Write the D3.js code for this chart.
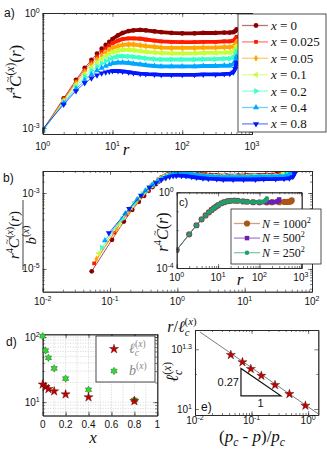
<!DOCTYPE html>
<html>
<head>
<meta charset="utf-8">
<script src="https://cdn.jsdelivr.net/npm/d3@7"></script>
<style>
  body { margin: 0; background: #fff; }
  text { font-family: 'Liberation Sans', Arial, sans-serif; }
  text.m { font-family: 'Liberation Serif', 'DejaVu Serif', serif; }
</style>
</head>
<body>
<svg id="fig" width="327" height="450"></svg>
<script>
// Correlation function collapse -- five panels a) to e)

///////////////////////////////////////////////////////////////////////////////
// Data

// r values sampled along the curves of panel a
var rA = [1, 2, 3, 4, 5, 6, 7, 8, 9, 10, 12, 14, 17, 20, 25, 30, 40, 50, 70, 100, 150, 200, 300, 400, 480, 540, 575, 600];

// log10 of r^4 C(x)(r), one array per dilution x
var logC_0 = [-3.05, -2.22, -1.74, -1.43, -1.22, -1.06, -0.93, -0.83, -0.75, -0.68, -0.58, -0.52, -0.47, -0.45, -0.44, -0.45, -0.48, -0.50, -0.52, -0.53, -0.53, -0.52, -0.52, -0.51, -0.51, -0.50, -0.47, -0.43];
var logC_0025 = [-3.06, -2.25, -1.78, -1.48, -1.28, -1.13, -1.01, -0.92, -0.85, -0.79, -0.72, -0.68, -0.66, -0.66, -0.67, -0.69, -0.72, -0.74, -0.75, -0.76, -0.76, -0.75, -0.75, -0.74, -0.74, -0.72, -0.68, -0.62];
var logC_005 = [-3.06, -2.27, -1.82, -1.53, -1.34, -1.21, -1.10, -1.02, -0.96, -0.91, -0.86, -0.83, -0.82, -0.82, -0.84, -0.86, -0.88, -0.90, -0.91, -0.91, -0.91, -0.90, -0.90, -0.89, -0.89, -0.87, -0.82, -0.75];
var logC_01 = [-3.07, -2.29, -1.86, -1.59, -1.41, -1.28, -1.19, -1.12, -1.06, -1.02, -0.98, -0.96, -0.96, -0.97, -0.99, -1.01, -1.03, -1.04, -1.05, -1.05, -1.05, -1.04, -1.04, -1.03, -1.03, -1.00, -0.95, -0.86];
var logC_02 = [-3.08, -2.32, -1.92, -1.66, -1.50, -1.39, -1.31, -1.25, -1.20, -1.17, -1.13, -1.12, -1.13, -1.14, -1.16, -1.18, -1.20, -1.21, -1.21, -1.21, -1.21, -1.20, -1.20, -1.19, -1.19, -1.16, -1.10, -1.00];
var logC_04 = [-3.06, -2.35, -1.98, -1.75, -1.60, -1.50, -1.43, -1.38, -1.34, -1.31, -1.29, -1.29, -1.30, -1.32, -1.34, -1.36, -1.38, -1.39, -1.39, -1.39, -1.39, -1.38, -1.38, -1.37, -1.37, -1.33, -1.26, -1.14];
var logC_08 = [-3.02, -2.38, -2.03, -1.82, -1.70, -1.62, -1.57, -1.54, -1.52, -1.51, -1.51, -1.52, -1.54, -1.56, -1.58, -1.59, -1.60, -1.61, -1.61, -1.61, -1.61, -1.60, -1.60, -1.59, -1.58, -1.54, -1.45, -1.29];

var dilutionLabels = ["0", "0.025", "0.05", "0.1", "0.2", "0.4", "0.8"];
var dilution = [0, 0.025, 0.05, 0.1, 0.2, 0.4, 0.8];

// correlation length and amplitude (panel d, e)
var lcVals = [18.7, 17.2, 15.9, 14.7, 13.2, 11.9, 10.4];
var bVals = [103, 62, 48, 33, 23, 15.5, 10.8];
var pRel = [0.043, 0.069, 0.097, 0.149, 0.26, 0.467, 0.895];
var fitX = [0.0122, 1.5];
var fitY = [24.4, 9.47];
var triX = [0.065, 0.065, 0.33];
var triY = [16.0, 11.65, 11.65];

// panel c: system sizes, x = 0
var sizeLabels = ["1000", "500", "250"];
var rN1000 = rA;
var logN1000 = logC_0;
var rN500 = [1, 2, 3, 4, 5, 6, 7, 8, 9, 10, 12, 14, 17, 20, 25, 30, 40, 50, 70, 100, 150, 200, 240, 270, 290, 300];
var logN500 = [-3.05, -2.22, -1.74, -1.43, -1.22, -1.06, -0.93, -0.83, -0.75, -0.68, -0.58, -0.52, -0.47, -0.45, -0.44, -0.45, -0.48, -0.50, -0.52, -0.53, -0.53, -0.52, -0.51, -0.49, -0.44, -0.38];
var rN250 = [1, 2, 3, 4, 5, 6, 7, 8, 9, 10, 12, 14, 17, 20, 25, 30, 40, 50, 70, 100, 120, 135, 145, 150];
var logN250 = [-3.05, -2.22, -1.74, -1.43, -1.22, -1.06, -0.93, -0.83, -0.75, -0.68, -0.58, -0.52, -0.47, -0.45, -0.44, -0.45, -0.48, -0.50, -0.52, -0.52, -0.50, -0.46, -0.40, -0.33];

var logSeries = [logC_0, logC_0025, logC_005, logC_01, logC_02, logC_04, logC_08];
var colors = ["#8c0000", "#ff1a00", "#ffa600", "#c4ff3a", "#3affc8", "#00a6ff", "#0018ff"];
var sizeColors = ["#a8561a", "#6a1fb0", "#1f9e6e"];

///////////////////////////////////////////////////////////////////////////////
// Helpers

var svg = d3.select("#fig");
var defs = svg.append("defs");
var clipCount = 0;

var shapes = [
  {type: d3.symbolCircle, rot: 0, size: 18},
  {type: d3.symbolSquare, rot: 0, size: 14},
  {type: d3.symbolDiamond, rot: 0, size: 14},
  {type: d3.symbolTriangle, rot: -90, size: 16},
  {type: d3.symbolTriangle, rot: 90, size: 16},
  {type: d3.symbolTriangle, rot: 0, size: 16},
  {type: d3.symbolTriangle, rot: 180, size: 16}
];

// six pointed star for the b(x) markers
var hexagram = {
  draw: function (ctx, size) {
    var R = Math.sqrt(size / 2.2), r = R * 0.58;
    for (var i = 0; i < 12; i++) {
      var a = i * Math.PI / 6 - Math.PI / 2, rr = i % 2 ? r : R;
      if (i === 0) ctx.moveTo(rr * Math.cos(a), rr * Math.sin(a));
      else ctx.lineTo(rr * Math.cos(a), rr * Math.sin(a));
    }
    ctx.closePath();
  }
};

function logTicks(lo, hi) {
  var out = [];
  for (var k = Math.floor(Math.log10(lo)); k <= Math.ceil(Math.log10(hi)); k++)
    for (var m = 1; m < 10; m++) {
      var v = m * Math.pow(10, k);
      if (v >= lo * 0.999 && v <= hi * 1.001) out.push(v);
    }
  return out;
}

function clipTo(g, x, y) {
  var id = "clip" + (clipCount++);
  defs.append("clipPath").attr("id", id).append("rect")
    .attr("x", x.range()[0]).attr("y", y.range()[1])
    .attr("width", x.range()[1] - x.range()[0])
    .attr("height", y.range()[0] - y.range()[1]);
  return g.append("g").attr("clip-path", "url(#" + id + ")");
}

// box with inward ticks on all four sides
function frame(g, x, y, o) {
  var xr = x.range(), yr = y.range();
  function side(axis, tr, vals, size) {
    g.append("g").attr("transform", tr)
      .call(axis.tickValues(vals).tickSize(size).tickSizeOuter(0).tickFormat(""))
      .call(function (s) {
        s.select(".domain").attr("stroke", "#222").attr("stroke-width", 0.8);
        s.selectAll(".tick line").attr("stroke", "#222").attr("stroke-width", 0.6);
      });
  }
  [[o.xMin, -2], [o.xMaj, -4]].forEach(function (t) {
    side(d3.axisBottom(x), "translate(0," + yr[0] + ")", t[0], t[1]);
    side(d3.axisTop(x), "translate(0," + yr[1] + ")", t[0], t[1]);
  });
  [[o.yMin, -2], [o.yMaj, -4]].forEach(function (t) {
    side(d3.axisLeft(y), "translate(" + xr[0] + ",0)", t[0], t[1]);
    side(d3.axisRight(y), "translate(" + xr[1] + ",0)", t[0], t[1]);
  });
}

function exp10(t, v) {
  var e = Math.round(Math.log10(v) * 10) / 10;
  t.append("tspan").text("10");
  t.append("tspan").attr("dy", -4).attr("font-size", 7).text(e < 0 ? "-" + (-e) : "" + e);
}

function plain(t, v) {
  t.text(d3.format("~g")(v));
}

function xLabels(g, x, y, vals, fmt, dy) {
  vals.forEach(function (v) {
    var t = g.append("text").attr("x", x(v)).attr("y", y.range()[0] + dy)
      .attr("text-anchor", "middle").attr("font-size", 10).attr("fill", "#111");
    fmt(t, v);
  });
}

function yLabels(g, x, y, vals, fmt) {
  vals.forEach(function (v) {
    var t = g.append("text").attr("x", x.range()[0] - 3).attr("y", y(v) + 3.5)
      .attr("text-anchor", "end").attr("font-size", 10).attr("fill", "#111");
    fmt(t, v);
  });
}

// math-like text: parts are [text, style, dx]; style has i (italic), ^ (sup), _ (sub),
// ~ (tilde accent over the previous letter)
function math(t, parts, size) {
  var shift = 0, carry = 0;
  t.attr("class", "m").attr("font-size", size).attr("fill", "#111");
  parts.forEach(function (p) {
    var s = 0, fs = size, dx = (p[2] || 0) + carry;
    carry = 0;
    if (p[1].indexOf("^") >= 0) { s = -size * 0.42; fs = size * 0.68; }
    if (p[1].indexOf("_") >= 0) { s = size * 0.22; fs = size * 0.68; }
    if (p[1].indexOf("~") >= 0) {
      s = -size * 0.6; fs = size * 0.62;
      dx += -size * 0.41;
      carry = size * 0.41 - size * 0.62 * 0.54;
    }
    var ts = t.append("tspan").text(p[0]).attr("dy", s - shift).attr("font-size", fs)
      .attr("font-style", p[1].indexOf("i") >= 0 ? "italic" : "normal");
    if (dx) ts.attr("dx", dx);
    shift = s;
  });
  return t;
}

var supX = [["(", "^"], ["x", "^i"], [")", "^"]];
var cTilde = [["C", "i"], ["~", "~"]];

function marker(sel, shape, color, stroke) {
  sel.attr("d", d3.symbol().type(shape.type).size(shape.size)())
    .attr("fill", color)
    .attr("stroke", stroke || "none").attr("stroke-width", 0.4);
}

// thin line through all points, a heavy band where the markers pile up
function drawCurve(g, pts, x, y, color, shape, bandFrom) {
  var line = d3.line().x(function (d) { return x(d.x); }).y(function (d) { return y(d.y); });
  g.append("path").attr("d", line(pts)).attr("fill", "none")
    .attr("stroke", color).attr("stroke-width", 0.7);
  g.append("path").attr("d", line(pts.filter(function (d) { return d.r >= bandFrom; })))
    .attr("fill", "none").attr("stroke", color).attr("stroke-width", 3.8)
    .attr("stroke-linejoin", "round").attr("stroke-linecap", "round");
  g.selectAll(null).data(pts).enter().append("path")
    .attr("transform", function (d) {
      return "translate(" + x(d.x) + "," + y(d.y) + ") rotate(" + shape.rot + ")";
    })
    .call(marker, shape, color);
}

function panelTag(txt, x, y, size) {
  svg.append("text").attr("x", x).attr("y", y).attr("font-size", size || 12)
    .attr("fill", "#111").text(txt);
}

///////////////////////////////////////////////////////////////////////////////
// Panel a

var xa = d3.scaleLog().domain([1, 1000]).range([42.7, 252]);
var ya = d3.scaleLog().domain([Math.pow(10, -3.15), 1]).range([134, 13]);
var ga = svg.append("g");
var pa = clipTo(ga, xa, ya);

logSeries.forEach(function (s, i) {
  var pts = s.map(function (v, k) { return {r: rA[k], x: rA[k], y: Math.pow(10, v)}; });
  drawCurve(pa, pts, xa, ya, colors[i], shapes[i], 10);
});
frame(ga, xa, ya, {xMaj: [1, 10, 100, 1000], xMin: logTicks(1, 1000),
  yMaj: [1e-3, 1], yMin: logTicks(ya.domain()[0], 1)});
xLabels(ga, xa, ya, [1, 10, 100, 1000], exp10, 16);
yLabels(ga, xa, ya, [1e-3, 1], exp10);

math(ga.append("text").attr("x", 126).attr("y", 155).attr("text-anchor", "middle"),
  [["r", "i"]], 17);
math(ga.append("text").attr("transform", "translate(21,72) rotate(-90)").attr("text-anchor", "middle"),
  [["r", "i"], ["4", "^"]].concat(cTilde, supX, [["(", "u"], ["r", "i"], [")", "u"]]), 17);

// legend a
var lga = ga.append("g");
lga.append("rect").attr("x", 238).attr("y", 14).attr("width", 88).attr("height", 118)
  .attr("fill", "#fff").attr("stroke", "#222").attr("stroke-width", 0.8);
dilutionLabels.forEach(function (lab, i) {
  var yy = 25.5 + i * 16.4;
  lga.append("line").attr("x1", 242).attr("x2", 268).attr("y1", yy).attr("y2", yy)
    .attr("stroke", colors[i]).attr("stroke-width", 1.3).attr("opacity", 0.55);
  lga.append("path").attr("transform", "translate(256," + yy + ") rotate(" + shapes[i].rot + ")")
    .call(marker, shapes[i], colors[i]);
  math(lga.append("text").attr("x", 271).attr("y", yy + 4.5),
    [["x", "i"], [" = " + lab, "u"]], 13);
});
panelTag("a)", 4, 17);

///////////////////////////////////////////////////////////////////////////////
// Panel b

var xb = d3.scaleLog().domain([0.01, 100]).range([42.7, 312]);
var yb = d3.scaleLog().domain([Math.pow(10, -5.6), Math.pow(10, -2.42)]).range([291.7, 171]);
var gb = svg.append("g");
var pb = clipTo(gb, xb, yb);

logSeries.forEach(function (s, i) {
  var pts = s.map(function (v, k) {
    return {r: rA[k], x: rA[k] / lcVals[i], y: Math.pow(10, v) / bVals[i]};
  });
  drawCurve(pb, pts, xb, yb, colors[i], shapes[i], 10);
});
frame(gb, xb, yb, {xMaj: [0.01, 0.1, 1, 10, 100], xMin: logTicks(0.01, 100),
  yMaj: [1e-5, 1e-3], yMin: logTicks(yb.domain()[0], yb.domain()[1])});
xLabels(gb, xb, yb, [0.01, 0.1, 1, 10, 100], exp10, 13);
yLabels(gb, xb, yb, [1e-5, 1e-3], exp10);

math(gb.append("text").attr("x", 182).attr("y", 332).attr("text-anchor", "middle"),
  [["r", "i"], ["/", "u"], ["\u2113", "i"], ["c", "_i"], ["(", "^", -5], ["x", "^i"], [")", "^"]], 16);
var fr = gb.append("g").attr("transform", "translate(23,235) rotate(-90)");
math(fr.append("text").attr("x", 0).attr("y", -4).attr("text-anchor", "middle"),
  [["r", "i"], ["4", "^"]].concat(cTilde, supX, [["(", "u"], ["r", "i"], [")", "u"]]), 15);
fr.append("line").attr("x1", -35).attr("x2", 35).attr("y1", 0).attr("y2", 0)
  .attr("stroke", "#111").attr("stroke-width", 0.8);
math(fr.append("text").attr("x", 0).attr("y", 12.5).attr("text-anchor", "middle"),
  [["b", "i"]].concat(supX), 15);
panelTag("b)", 3, 182);

///////////////////////////////////////////////////////////////////////////////
// Panel c (inset)

var xc = d3.scaleLog().domain([1, Math.pow(10, 3.02)]).range([176.7, 301.7]);
var yc = d3.scaleLog().domain([1e-4, 1]).range([268, 192.3]);
var gc = svg.append("g");
gc.append("rect").attr("x", 176.7).attr("y", 192.3).attr("width", 125).attr("height", 75.7)
  .attr("fill", "#fff");
var pc = clipTo(gc, xc, yc);

var sizeShapes = [
  {type: d3.symbolCircle, rot: 0, size: 30},
  {type: d3.symbolSquare, rot: 0, size: 20},
  {type: d3.symbolCircle, rot: 0, size: 16}
];
[[rN1000, logN1000], [rN500, logN500], [rN250, logN250]].forEach(function (s, i) {
  var pts = s[1].map(function (v, k) { return {r: s[0][k], x: s[0][k], y: Math.pow(10, v)}; });
  drawCurve(pc, pts, xc, yc, sizeColors[i], sizeShapes[i], 10);
});
frame(gc, xc, yc, {xMaj: [1, 10, 100, 1000], xMin: logTicks(1, 1000),
  yMaj: [1e-4, 1], yMin: [1e-3, 1e-2, 1e-1]});
xLabels(gc, xc, yc, [1, 10, 100, 1000], exp10, 13);
yLabels(gc, xc, yc, [1e-4, 1], exp10);
math(gc.append("text").attr("x", 240).attr("y", 285).attr("text-anchor", "middle"),
  [["r", "i"]], 17);
math(gc.append("text").attr("transform", "translate(168,232) rotate(-90)").attr("text-anchor", "middle"),
  [["r", "i"], ["4", "^"]].concat(cTilde, [["(", "u"], ["r", "i"], [")", "u"]]), 16);
panelTag("c)", 179, 206, 11);

// legend c
var lgc = gc.append("g");
lgc.append("rect").attr("x", 231).attr("y", 209).attr("width", 90).attr("height", 55)
  .attr("fill", "#fff").attr("stroke", "#222").attr("stroke-width", 0.8);
sizeLabels.forEach(function (lab, i) {
  var yy = 223.5 + i * 14.6;
  lgc.append("line").attr("x1", 234).attr("x2", 260).attr("y1", yy).attr("y2", yy)
    .attr("stroke", sizeColors[i]).attr("stroke-width", 1.3).attr("opacity", 0.55);
  lgc.append("path").attr("transform", "translate(247," + yy + ")")
    .call(marker, sizeShapes[i], sizeColors[i]);
  math(lgc.append("text").attr("x", 262).attr("y", yy + 4.2),
    [["N", "i"], [" = " + lab, "u"], ["2", "^"]], 12);
});

///////////////////////////////////////////////////////////////////////////////
// Panel d

var xd = d3.scaleLinear().domain([0, 1]).range([42.7, 157.3]);
var yd = d3.scaleLog().domain([Math.pow(10, 0.795), Math.pow(10, 2.042)]).range([415.5, 334.3]);
var gd = svg.append("g");
var grid = gd.append("g").attr("stroke", "#bbb").attr("stroke-width", 0.6)
  .attr("stroke-dasharray", "1,1.5");
xd.ticks(10).forEach(function (v) {
  grid.append("line").attr("x1", xd(v)).attr("x2", xd(v)).attr("y1", 334.3).attr("y2", 415.5);
});
logTicks(yd.domain()[0], yd.domain()[1]).forEach(function (v) {
  grid.append("line").attr("x1", 42.7).attr("x2", 157.3).attr("y1", yd(v)).attr("y2", yd(v));
});
frame(gd, xd, yd, {xMaj: xd.ticks(5), xMin: xd.ticks(5),
  yMaj: [10, 100], yMin: logTicks(yd.domain()[0], yd.domain()[1])});
xLabels(gd, xd, yd, xd.ticks(5), plain, 12);
yLabels(gd, xd, yd, [10, 100], exp10);
math(gd.append("text").attr("x", 93).attr("y", 443).attr("text-anchor", "middle"),
  [["x", "i"]], 17);

var starShape = {type: d3.symbolStar, rot: 0, size: 26};
var hexShape = {type: hexagram, rot: 0, size: 30};
var pd = gd.append("g");
pd.selectAll(null).data(dilution).enter().append("path")
  .attr("transform", function (d, i) { return "translate(" + xd(d) + "," + yd(bVals[i]) + ")"; })
  .call(marker, hexShape, "#2edc2e", "#1a3a1a");
pd.selectAll(null).data(dilution).enter().append("path")
  .attr("transform", function (d, i) { return "translate(" + xd(d) + "," + yd(lcVals[i]) + ")"; })
  .call(marker, starShape, "#c40000", "#3a0000");

var lgd = gd.append("g");
lgd.append("rect").attr("x", 96).attr("y", 336).attr("width", 59).attr("height", 46)
  .attr("fill", "#fff").attr("stroke", "#222").attr("stroke-width", 0.8);
lgd.append("path").attr("transform", "translate(114,349)").call(marker, starShape, "#c40000", "#3a0000");
lgd.append("path").attr("transform", "translate(114,371)").call(marker, hexShape, "#2edc2e", "#1a3a1a");
math(lgd.append("text").attr("x", 129).attr("y", 353), [["\u2113", "i"], ["c", "_i"], ["(", "^", -4], ["x", "^i"], [")", "^"]], 14)
  .attr("fill", "#888");
math(lgd.append("text").attr("x", 129).attr("y", 375), [["b", "i"]].concat(supX), 14)
  .attr("fill", "#888");
panelTag("d)", 6, 346);

///////////////////////////////////////////////////////////////////////////////
// Panel e

var xe = d3.scaleLog().domain([0.01, Math.pow(10, 0.18)]).range([195, 318.3]);
var ye = d3.scaleLog().domain([Math.pow(10, 0.97), Math.pow(10, 1.397)]).range([415, 330]);
var ge = svg.append("g");
var pe = clipTo(ge, xe, ye);
pe.append("path").datum(fitX.map(function (v, i) { return [v, fitY[i]]; }))
  .attr("d", d3.line().x(function (d) { return xe(d[0]); }).y(function (d) { return ye(d[1]); }))
  .attr("stroke", "#222").attr("stroke-width", 0.6).attr("fill", "none");
pe.append("path").datum(triX.map(function (v, i) { return [v, triY[i]]; }))
  .attr("d", d3.line().x(function (d) { return xe(d[0]); }).y(function (d) { return ye(d[1]); })
    .curve(d3.curveLinearClosed))
  .attr("stroke", "#111").attr("stroke-width", 1.2).attr("fill", "none");
pe.selectAll(null).data(pRel).enter().append("path")
  .attr("transform", function (d, i) { return "translate(" + xe(d) + "," + ye(lcVals[i]) + ")"; })
  .call(marker, starShape, "#c40000", "#3a0000");
frame(ge, xe, ye, {xMaj: [0.01, 0.1, 1], xMin: logTicks(0.01, 1.5),
  yMaj: [10, Math.pow(10, 1.3)], yMin: [15]});
xLabels(ge, xe, ye, [0.01, 0.1, 1], exp10, 8.5);
yLabels(ge, xe, ye, [10, Math.pow(10, 1.3)], exp10);
ge.append("text").attr("x", xe(triX[0]) - 2).attr("y", ye(13.6) + 4).attr("text-anchor", "end")
  .attr("font-size", 11).attr("fill", "#111").text("0.27");
ge.append("text").attr("x", xe(0.145)).attr("y", ye(triY[1]) + 11).attr("text-anchor", "middle")
  .attr("font-size", 11).attr("fill", "#111").text("1");
panelTag("e)", 201, 411);
math(ge.append("text").attr("x", 252).attr("y", 442).attr("text-anchor", "middle"),
  [["(", "u"], ["p", "i"], ["c", "_i"], [" - ", "u"], ["p", "i"], [")/", "u"], ["p", "i"], ["c", "_i"]], 17);
math(ge.append("text").attr("transform", "translate(178,372) rotate(-90)").attr("text-anchor", "middle"),
  [["\u2113", "i"], ["c", "_i"], ["(", "^", -5], ["x", "^i"], [")", "^"]], 17);
</script>
</body>
</html>
